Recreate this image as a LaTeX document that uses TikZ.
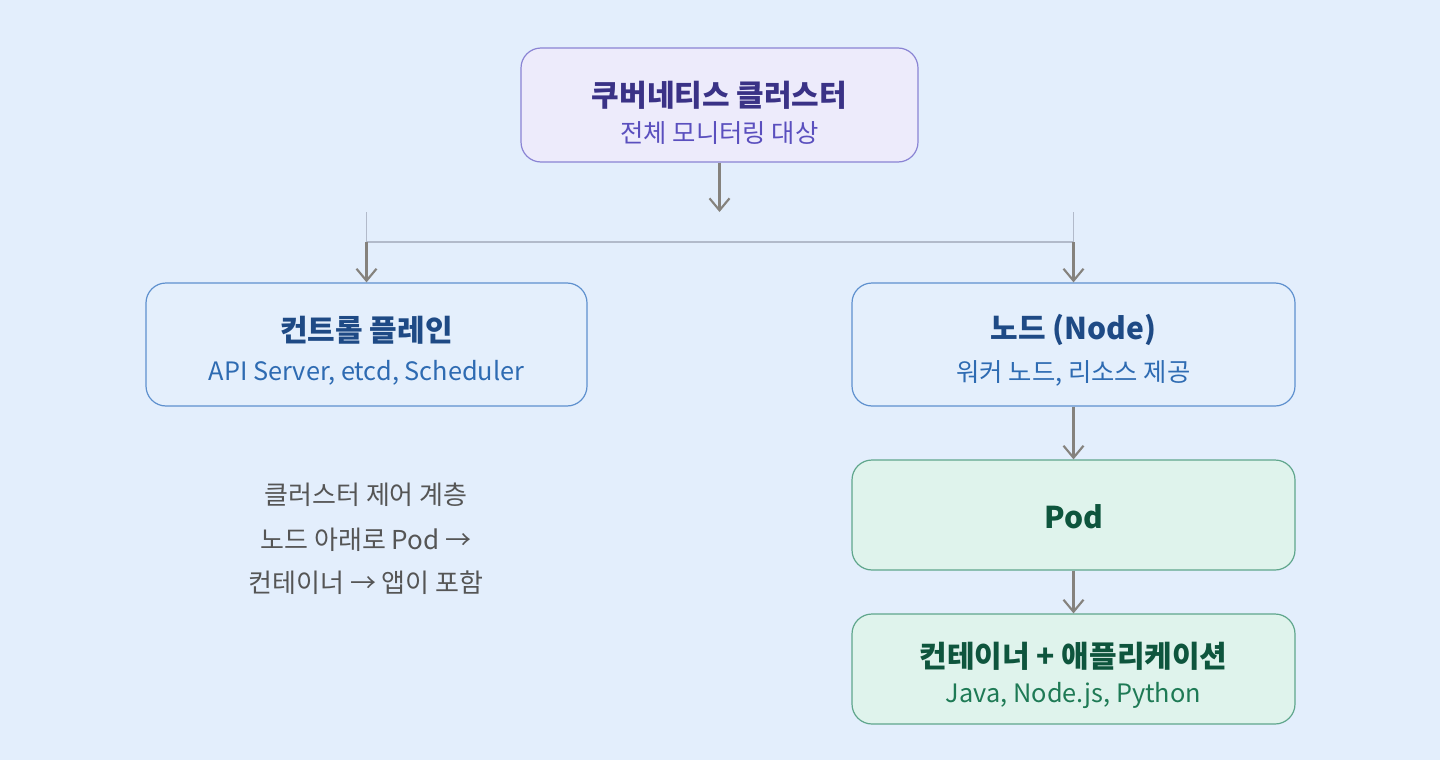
\documentclass[tikz,border=0pt]{standalone}
\usepackage{fontspec}
\setmainfont{Noto Sans CJK KR}
\usetikzlibrary{arrows.meta,positioning}
\definecolor{bg}{HTML}{E3EEFC}
\definecolor{purfill}{HTML}{EDEBFB}
\definecolor{purdraw}{HTML}{8A84D4}
\definecolor{purtitle}{HTML}{3A3286}
\definecolor{pursub}{HTML}{5A4FBE}
\definecolor{bluefill}{HTML}{E4EFFC}
\definecolor{bluedraw}{HTML}{5E90CE}
\definecolor{bluetitle}{HTML}{1E4A85}
\definecolor{bluesub}{HTML}{2E6BB2}
\definecolor{grnfill}{HTML}{DFF3EC}
\definecolor{grndraw}{HTML}{5FA68C}
\definecolor{grntitle}{HTML}{0E553D}
\definecolor{grnsub}{HTML}{1E7A55}
\definecolor{arrowc}{HTML}{85827D}
\definecolor{linec}{HTML}{B2BACA}
\definecolor{notec}{HTML}{555555}
\tikzset{
  box/.style={draw, rounded corners=15pt, line width=0.9pt, inner sep=0pt},
  purbox/.style={box, fill=purfill, draw=purdraw},
  bluebox/.style={box, fill=bluefill, draw=bluedraw},
  grnbox/.style={box, fill=grnfill, draw=grndraw},
  ttl/.style={font=\bfseries\fontsize{22.5}{26}\selectfont, inner sep=0pt, anchor=center},
  sub/.style={font=\fontsize{19}{22}\selectfont, inner sep=0pt, anchor=center},
  note/.style={font=\fontsize{19.5}{22}\selectfont, text=notec, inner sep=0pt, anchor=center},
  arr/.style={draw=arrowc, line width=1.6pt, -{Straight Barb[length=9pt,width=15pt,line width=1.6pt]}},
  thin/.style={draw=linec, line width=1.2pt},
}
\begin{document}
\begin{tikzpicture}[x=0.75pt,y=-0.75pt]
\fill[bg] (0,0) rectangle (1440,760);
\useasboundingbox (0,0) rectangle (1440,760);
% boxes
\node[purbox, minimum width=297.75pt, minimum height=85.5pt] (top) at (719.5,105) {};
\node[bluebox, minimum width=330.75pt, minimum height=92.25pt] (cp) at (366.5,344.5) {};
\node[bluebox, minimum width=332.25pt, minimum height=92.25pt] (nd) at (1073.5,344.5) {};
\node[grnbox, minimum width=332.25pt, minimum height=82.5pt] (pod) at (1073.5,515) {};
\node[grnbox, minimum width=332.25pt, minimum height=82.5pt] (ctr) at (1073.5,669) {};
% texts
\node[ttl, text=purtitle] (topt) at (719.5,95) {쿠버네티스 클러스터};
\node[sub, text=pursub] (tops) at (719.5,133) {전체 모니터링 대상};
\node[ttl, text=bluetitle] (cpt) at (366.5,330) {컨트롤 플레인};
\node[sub, text=bluesub] (cps) at (366.5,373) {API Server, etcd, Scheduler};
\node[ttl, text=bluetitle] (ndt) at (1073.5,330) {노드 (Node)};
\node[sub, text=bluesub] (nds) at (1073.5,373) {워커 노드, 리소스 제공};
\node[ttl, text=grntitle] (podt) at (1073.5,517) {Pod};
\node[ttl, text=grntitle] (ctrt) at (1073.5,656) {컨테이너 + 애플리케이션};
\node[sub, text=grnsub] (ctrs) at (1073.5,695) {Java, Node.js, Python};
% notes
\node[note] (n1) at (366,495) {클러스터 제어 계층};
\node[note] (n2) at (366,540) {노드 아래로 Pod →};
\node[note] (n3) at (366,583) {컨테이너 → 앱이 포함};
% connector coordinates
\coordinate (ta) at (719.5,212);
\coordinate (l1) at (366.5,212);
\coordinate (l2) at (366.5,242);
\coordinate (r1) at (1073.5,212);
\coordinate (r2) at (1073.5,242);
\draw[thin] (l1) -- (l2) -- (r2) -- (r1);
\draw[arr] (top.south) -- (ta);
\draw[arr] (l2) -- (cp.north);
\draw[arr] (r2) -- (nd.north);
\draw[arr] (nd.south) -- (pod.north);
\draw[arr] (pod.south) -- (ctr.north);
\end{tikzpicture}
\end{document}
